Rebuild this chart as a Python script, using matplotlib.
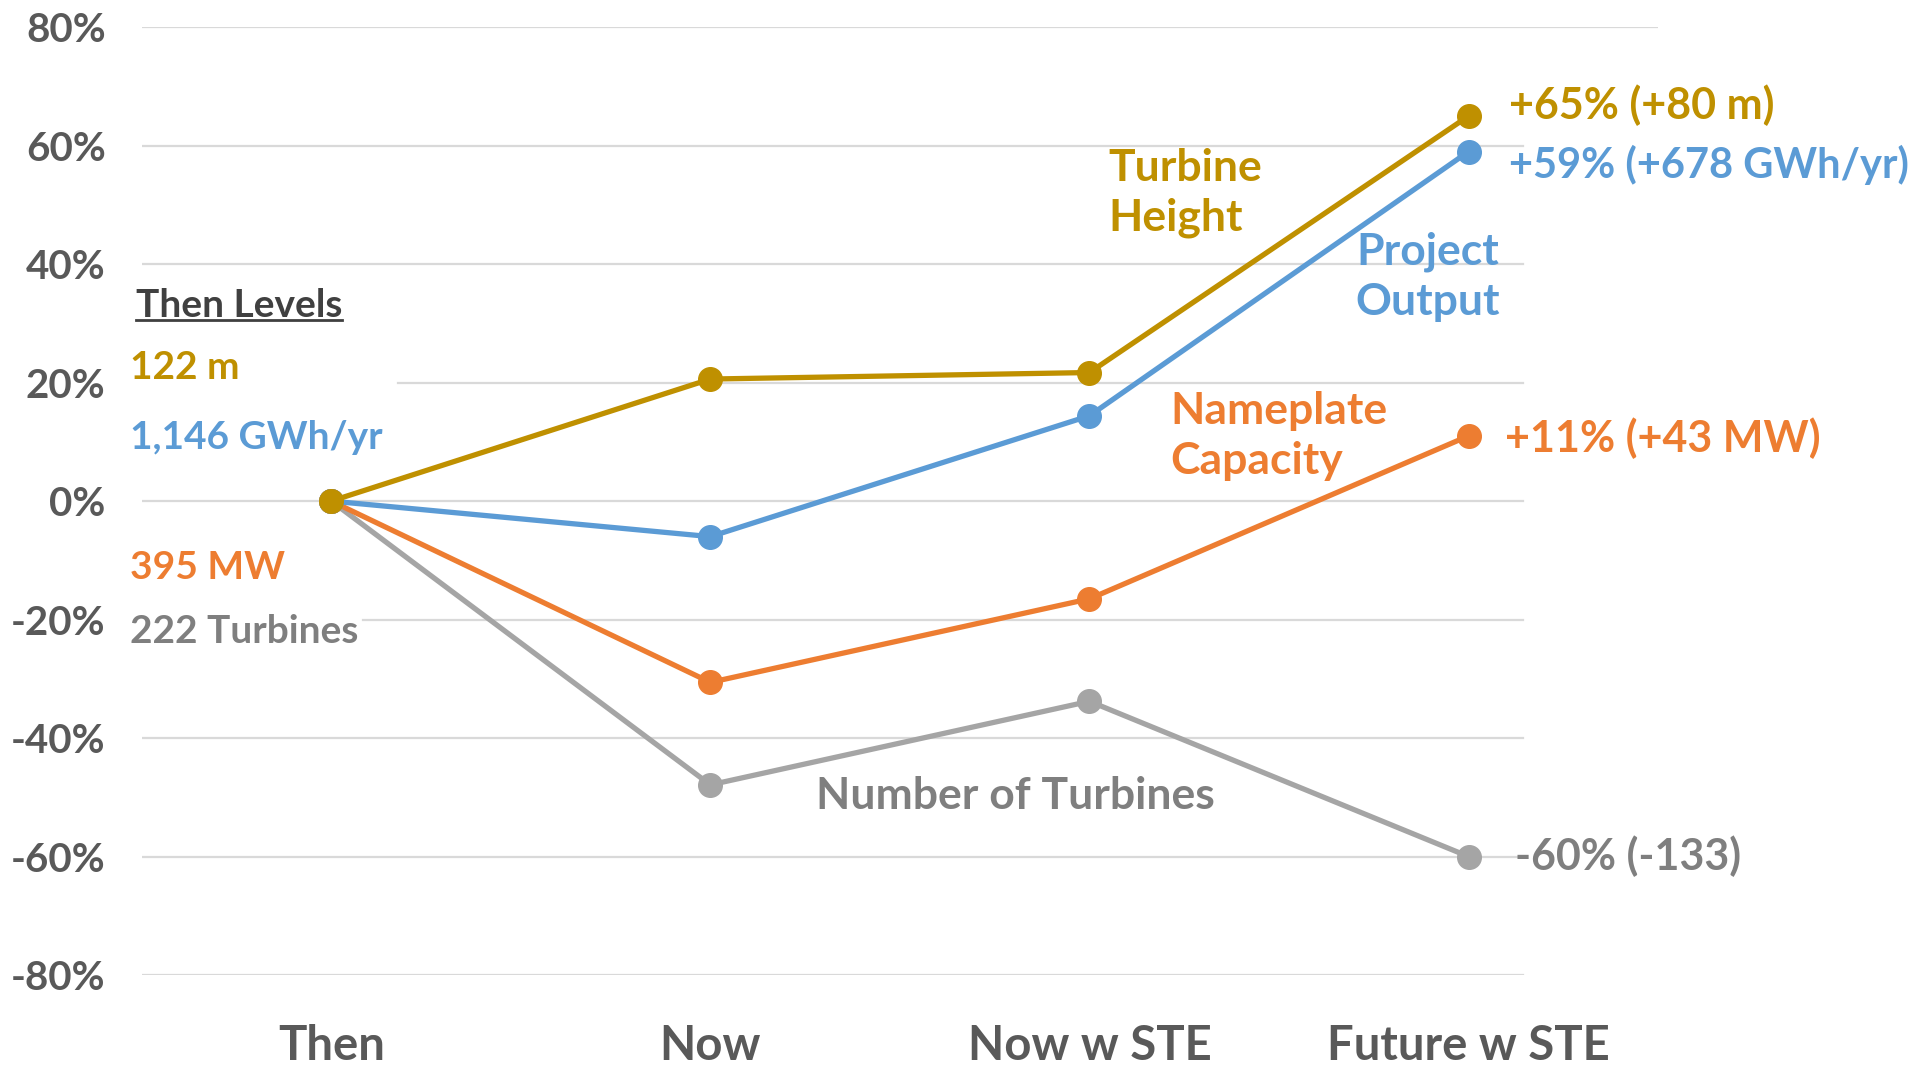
import matplotlib
matplotlib.use("Agg")
import matplotlib.pyplot as plt
from matplotlib.lines import Line2D

plt.rcParams['font.family'] = ['Lato', 'DejaVu Sans']
plt.rcParams['font.weight'] = 'bold'

# ---- data ----
categories = ["Then", "Now", "Now w STE", "Future w STE"]
turbine_height = [0.0, 20.6, 21.7, 65.0]
project_output = [0.0, -6.0, 14.4, 59.0]
nameplate_capacity = [0.0, -30.6, -16.5, 11.0]
number_of_turbines = [0.0, -47.9, -33.8, -60.0]

series_names = ["Turbine\nHeight", "Project\nOutput", "Nameplate\nCapacity", "Number of Turbines"]
then_levels = ["122 m", "1,146 GWh/yr", "395 MW", "222 Turbines"]
end_labels = ["+65% (+80 m)", "+59% (+678 GWh/yr)", "+11% (+43 MW)", "-60% (-133)"]
yticks = [-80, -60, -40, -20, 0, 20, 40, 60, 80]

GOLD = "#BF9000"
BLUE = "#5B9BD5"
ORANGE = "#ED7D31"
GRAY = "#A5A5A5"
GRAYTXT = "#7F7F7F"
TXT = "#595959"
GRID = "#D9D9D9"

fig = plt.figure(figsize=(19.33, 10.65), dpi=100)
ax = fig.add_axes([0.0733, 0.0845, 0.7845, 0.89])
ax.set_xlim(-0.5, 3.5)
ax.set_ylim(-80, 80)

# gridlines (partially hidden where labels sit in the original)
grid_spans = {80: (0, 1), 60: (0, 0.9106), 40: (0, 0.9106), 20: (0.169, 0.9106),
              0: (0, 0.9106), -20: (0.146, 0.9106), -40: (0, 0.9106),
              -60: (0, 0.9106), -80: (0, 0.9106)}
for yv in yticks:
    a, b = grid_spans[yv]
    ax.axhline(yv, xmin=a, xmax=b, color=GRID, lw=1.6, zorder=0)

x = list(range(len(categories)))
lw = 3.8
ms = 17
for vals, col in [(number_of_turbines, GRAY), (nameplate_capacity, ORANGE),
                  (project_output, BLUE), (turbine_height, GOLD)]:
    ax.plot(x, vals, color=col, lw=lw, marker='o', ms=ms, zorder=3, clip_on=False)

for s in ax.spines.values():
    s.set_visible(False)
ax.set_yticks(yticks)
ax.set_yticklabels([f"{v}%" for v in yticks])
ax.set_xticks(x)
ax.set_xticklabels(categories)
ax.tick_params(axis='y', length=0, pad=26, labelsize=29, labelcolor=TXT)
ax.tick_params(axis='x', length=0, pad=35, labelsize=34, labelcolor=TXT)
for lab in ax.get_xticklabels() + ax.get_yticklabels():
    lab.set_fontweight('bold')

fs = 32
lfs = 28
# left "Then Levels" block
tl = ax.text(-0.516, 33.0, "Then Levels", color="#404040", fontsize=lfs, ha='left', va='center')
ax.text(-0.532, 22.5, then_levels[0], color=GOLD, fontsize=lfs, ha='left', va='center')
ax.text(-0.532, 10.8, then_levels[1], color=BLUE, fontsize=lfs, ha='left', va='center')
ax.text(-0.532, -11.25, then_levels[2], color=ORANGE, fontsize=lfs, ha='left', va='center')
ax.text(-0.532, -22.0, then_levels[3], color=GRAYTXT, fontsize=lfs, ha='left', va='center')

# series names
ax.text(2.05, 52.0, series_names[0], color=GOLD, fontsize=fs, ha='left', va='center', linespacing=1.3)
ax.text(2.893, 37.9, series_names[1], color=BLUE, fontsize=fs, ha='center', va='center', linespacing=1.3)
ax.text(2.214, 11.0, series_names[2], color=ORANGE, fontsize=fs, ha='left', va='center', linespacing=1.3)
ax.text(1.279, -49.8, series_names[3], color=GRAYTXT, fontsize=fs, ha='left', va='center')

# end labels
ax.text(3.107, 66.9, end_labels[0], color=GOLD, fontsize=31, ha='left', va='center')
ax.text(3.107, 56.7, end_labels[1], color=BLUE, fontsize=30, ha='left', va='center')
ax.text(3.097, 10.6, end_labels[2], color=ORANGE, fontsize=31, ha='left', va='center')
ax.text(3.123, -60.0, end_labels[3], color=GRAYTXT, fontsize=31, ha='left', va='center')

# underline for "Then Levels"
fig.canvas.draw()
bb = tl.get_window_extent(renderer=fig.canvas.get_renderer())
W, H = fig.bbox.width, fig.bbox.height
uy = (bb.y0 + 3) / H
fig.add_artist(Line2D([bb.x0 / W, bb.x1 / W], [uy, uy], color="#404040", lw=2.0))

fig.savefig("out.png", dpi=100)
